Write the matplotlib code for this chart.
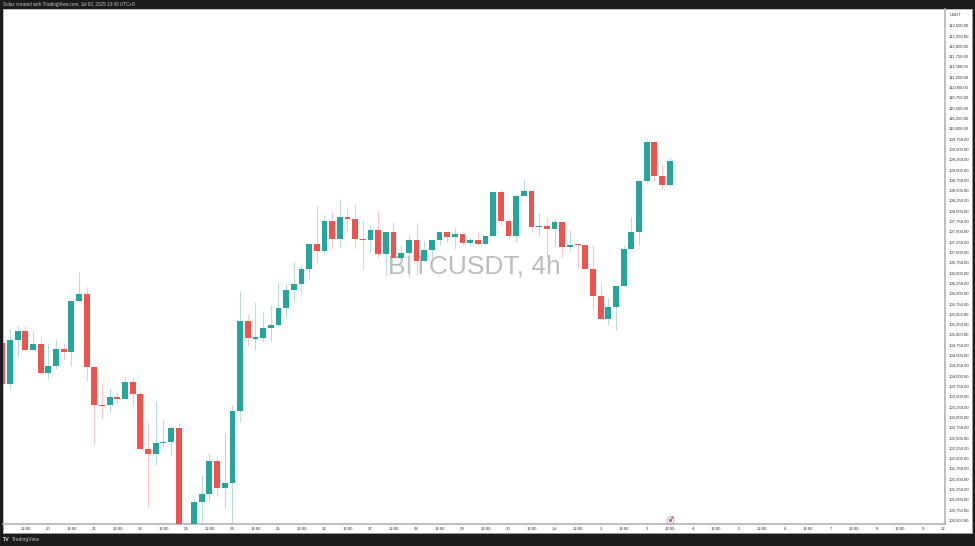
import numpy as np
import matplotlib
matplotlib.use('Agg')
import matplotlib.pyplot as plt

plt.rcParams['font.family'] = ['Liberation Sans', 'DejaVu Sans']

# 4h candles, index 0 is Jun 20 00:00
first_index = -6
opens = [104784, 103798, 104865, 105091, 104622, 104768, 104073, 104243, 104655, 104574,
         105802, 105972, 104202, 103297, 103289, 103491, 103443, 103855, 103548, 102231,
         102101, 102360, 102400, 102724, 99900, 100100, 100946, 101140, 101924, 101277,
         101398, 103144, 105317, 104889, 104906, 105155, 105228, 105633, 106076, 106229,
         106593, 107184, 107014, 107749, 107320, 107839, 107797, 107320, 107296, 107524,
         106942, 107475, 106852, 106966, 107296, 106787, 107039, 107288, 107475, 107361,
         107434, 107208, 107281, 107199, 107393, 108459, 107742, 107385, 108355, 108493,
         107596, 107635, 107562, 107732, 107126, 107184, 107160, 106593, 105938, 105381,
         105664, 106181, 107070, 107475, 108726, 109664, 108840, 108622]
highs = [104900, 105123, 105212, 105212, 105067, 104905, 104800, 104881, 104800, 105802,
         106513, 106141, 104235, 103814, 103669, 103588, 103960, 103936, 103612, 102869,
         103386, 102926, 102788, 102845, 100200, 101011, 101592, 102118, 102061, 102602,
         103289, 106061, 105487, 105793, 105550, 105705, 106278, 106222, 106779, 106682,
         107208, 108120, 107894, 107991, 108258, 108071, 108161, 107756, 107652, 107999,
         107475, 107725, 107150, 107393, 107700, 107264, 107288, 107475, 107475, 107572,
         107465, 107354, 107490, 107393, 108459, 108517, 107790, 108420, 108784, 108493,
         107950, 107839, 107790, 107732, 107531, 107184, 107160, 107167, 106263, 105875,
         106181, 107167, 107839, 108726, 109712, 109664, 109106, 109308]
lows = [103650, 103653, 104461, 104622, 104622, 104073, 103919, 104154, 104396, 104235,
        105802, 103879, 102336, 102958, 103111, 103313, 103443, 103273, 102231, 100825,
        101835, 102255, 102077, 99700, 99000, 100000, 100485, 100970, 101091, 100784,
        100396, 102869, 104719, 104622, 104816, 104816, 105163, 105429, 105810, 106004,
        106336, 106738, 106925, 107077, 107102, 107514, 107102, 106561, 106998, 106845,
        106440, 106852, 106513, 106360, 106440, 106787, 106884, 107167, 107247, 107077,
        107167, 107167, 107167, 107199, 107393, 107652, 107305, 107247, 108355, 107490,
        107385, 106884, 107111, 106884, 107029, 106617, 106593, 105609, 105381, 105228,
        105107, 106181, 107070, 107167, 108663, 108726, 108525, 108566]
closes = [103798, 104865, 105091, 104622, 104768, 104073, 104243, 104655, 104574, 105802,
          105972, 104202, 103289, 103273, 103483, 103443, 103855, 103548, 102231, 102101,
          102360, 102400, 102724, 99900, 99800, 100946, 101140, 101924, 101277, 101398,
          103144, 105317, 104905, 104930, 105163, 105235, 105633, 106076, 106229, 106593,
          107184, 107014, 107749, 107320, 107839, 107797, 107320, 107296, 107524, 106942,
          107475, 106852, 106966, 107296, 106787, 107039, 107288, 107475, 107361, 107434,
          107208, 107281, 107199, 107393, 108459, 107742, 107385, 108355, 108493, 107596,
          107635, 107562, 107732, 107126, 107174, 107160, 106593, 105938, 105381, 105664,
          106181, 107070, 107475, 108726, 109664, 108840, 108622, 109220]

price_ticks = list(range(100500, 112750, 250))
day_labels = ['19', '20', '21', '22', '23', '24', '25', '26', '27', '28', '29', '30',
              'Jul', '2', '3', '4', '5', '6', '7', '8', '9']

green = '#26a69a'
red = '#ef5350'
green_wick = '#b5dfdb'
red_wick = '#f8c9c8'
dark = '#1b1b1b'
line = '#b4b4b4'

W, H = 975, 546


def box(x0, y0, x1, y1):
    # pixel box, y from the top
    return [x0 / W, 1 - y1 / H, (x1 - x0) / W, (y1 - y0) / H]


fig = plt.figure(figsize=(9.75, 5.46), dpi=100, facecolor=dark)

panel = fig.add_axes(box(3.3, 9, 971.7, 533))
panel.set_facecolor('white')
panel.set_xticks([])
panel.set_yticks([])
for s in panel.spines.values():
    s.set_color(line)
    s.set_linewidth(0.6)

ax = fig.add_axes(box(3.3, 9.3, 945, 524))
ax.patch.set_alpha(0)
ax.set_xlim(-5.87, 116.9)
ax.set_ylim(100404, 112888)

o = np.array(opens)
h = np.array(highs)
l = np.array(lows)
c = np.array(closes)
x = np.arange(len(o)) + first_index
up = c >= o

ax.text(0.4998, 0.4995, 'BITCUSDT, 4h', transform=ax.transAxes, fontsize=19,
        color='#bdbdbd', ha='center', va='center', zorder=1)
ax.vlines(x[up], l[up], h[up], color=green_wick, linewidth=0.8, zorder=2)
ax.vlines(x[~up], l[~up], h[~up], color=red_wick, linewidth=0.8, zorder=2)
ax.bar(x[up], (c - o)[up], bottom=o[up], width=0.76, color=green, zorder=3)
ax.bar(x[~up], (o - c)[~up], bottom=c[~up], width=0.76, color=red, zorder=3)

# event marker under the last candle
marker_tr = ax.get_xaxis_transform()
ax.plot([x[-1]], [0.0078], marker='o', ms=5.2, mfc='none', mec='#c79ccb', mew=0.6,
        transform=marker_tr, zorder=4, clip_on=False)
ax.plot([x[-1]], [0.0078], marker='o', ms=1.5, color='#a86fae', transform=marker_tr, zorder=4)
ax.plot([x[-1] + 0.3], [0.0145], marker='o', ms=1.2, color='#ef7a78', transform=marker_tr, zorder=4)

ax.set_xticks([])
ax.yaxis.tick_right()
ax.set_yticks(price_ticks)
ax.set_yticklabels([f'{p:,.2f}' for p in price_ticks], fontsize=3.1, color='#333333')
ax.tick_params(axis='y', length=0, pad=2.8)
for name, s in ax.spines.items():
    s.set_visible(name in ('right', 'bottom'))
    s.set_color(line)
    s.set_linewidth(1.2)

ax.text(949.5 / W, 1 - 15 / H, 'USDT', transform=fig.transFigure, fontsize=3.1,
        color='#333333', va='center')

# time scale, labels get cut at the pane edges
tx = fig.add_axes(box(3.3, 524.5, 945, 533))
tx.set_xlim(ax.get_xlim())
tx.set_ylim(0, 1)
tx.axis('off')
for i, d in enumerate(day_labels):
    pos = first_index + i * 6
    tx.text(pos, 0.47, d, fontsize=3.1, color='#333333', ha='center', va='center', clip_on=True)
    tx.text(pos + 3, 0.47, '12:00', fontsize=3.1, color='#333333', ha='center', va='center', clip_on=True)

fig.text(3.3 / W, 1 - 4.6 / H, 'Solux created with TradingView.com, Jul 03, 2025 13:43 UTC+8',
         fontsize=3.3, color='#c8c8c8', va='center')
fig.text(3.3 / W, 1 - 539.5 / H, 'TV', fontsize=3.8, fontweight='bold', color='#e8e8e8', va='center')
fig.text(11.5 / W, 1 - 539.5 / H, 'TradingView', fontsize=3.6, color='#c8c8c8', va='center')

fig.savefig('out.png', dpi=100, facecolor=fig.get_facecolor())
